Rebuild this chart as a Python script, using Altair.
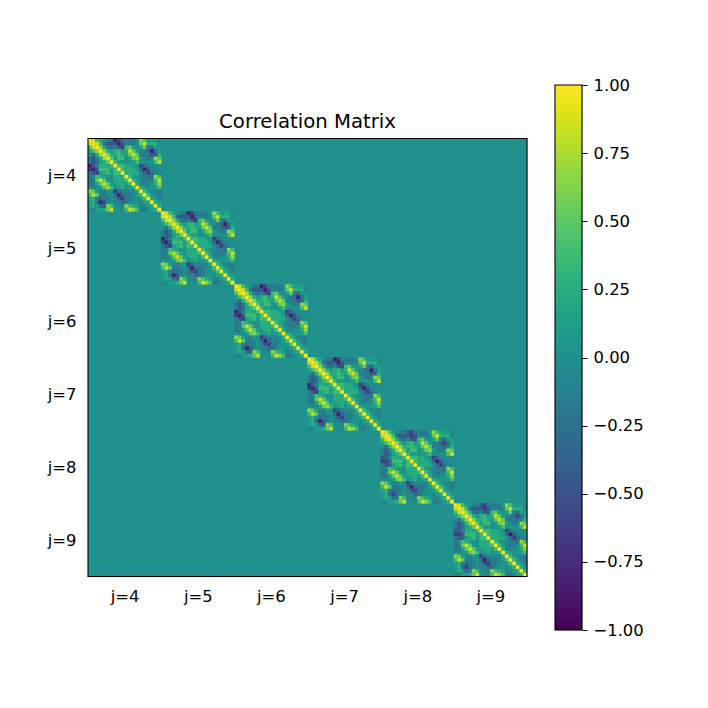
import altair as alt
import pandas as pd

N_BLOCKS = 6
BLOCK = 20
N = N_BLOCKS * BLOCK
BACKGROUND = 0.0

LEVELS = {"a": -0.85, "b": -0.65, "c": -0.45, "d": -0.3, "e": -0.18, "f": -0.08, ".": 0.02,
          "g": 0.12, "h": 0.25, "i": 0.38, "j": 0.52, "k": 0.68, "l": 0.85, "m": 1.0}

BASE_ROWS = [
    "mlig.eeabeeee.kigggf",
    ".mlidcccacfeefjlhhhf",
    "..mkhedfcbijg.gjedgg",
    "...mkhghighljgfedadg",
    "....mkhhihgjljeeecch",
    ".....mjgii.gjkgfefkj",
    "......migg..gi....il",
    ".......miihhg.bdff..",
    "........mihhhgdacff.",
    ".........mhhhhfdbdff",
    "..........mig.feedki",
    "...........migfeefil",
    "............mhff..hk",
    ".............mhg.ggi",
    "..............migffe",
    "...............migfe",
    "................mhgf",
    ".................mhg",
    "..................mh",
    "...................m",
]
# (block, row, col, level) cells where a block differs from the common pattern
OVERRIDES = [
    (4, 0, 7, "c"), (4, 1, 8, "b"), (4, 2, 9, "c"), (4, 3, 17, "b"), (4, 4, 17, "d"), (4, 4, 18, "e"),
    (5, 0, 7, "c"), (5, 1, 8, "b"), (5, 2, 9, "c"), (5, 3, 17, "b"), (5, 4, 17, "d"), (5, 4, 18, "e"),
]

TICK_POS = [10, 30, 50, 70, 90, 110]
TICK_LABELS = ["j=4", "j=5", "j=6", "j=7", "j=8", "j=9"]
CBAR_TICKS = [-1.0, -0.75, -0.5, -0.25, 0.0, 0.25, 0.5, 0.75, 1.0]
FONT = "DejaVu Sans"

override_map = {(b, r, c): s for b, r, c, s in OVERRIDES}
cells = []
for b in range(N_BLOCKS):
    off = b * BLOCK
    for r in range(BLOCK):
        for c in range(r, BLOCK):
            v = LEVELS[override_map.get((b, r, c), BASE_ROWS[r][c])]
            cells.append(dict(x=off + c, x1=off + c + 1, y=off + r, y1=off + r + 1, v=v))
            if c != r:
                cells.append(dict(x=off + r, x1=off + r + 1, y=off + c, y1=off + c + 1, v=v))
cells = pd.DataFrame(cells)

color_scale = alt.Scale(scheme="viridis", domain=[-1, 1])
xs = alt.Scale(domain=[0, N], nice=False, zero=False)
ys = alt.Scale(domain=[N, 0], nice=False, zero=False)

label_expr = "{" + ",".join(f"{p}:'{l}'" for p, l in zip(TICK_POS, TICK_LABELS)) + "}[datum.value]"
ax = dict(values=TICK_POS, labelExpr=label_expr, title=None, grid=False, domain=False, ticks=False,
          labelFont=FONT, labelFontSize=16.4, labelColor="black", labelPadding=12, labelAngle=0)

frame_df = pd.DataFrame({"x": [0], "x1": [N], "y": [0], "y1": [N], "v": [BACKGROUND]})

bg = alt.Chart(frame_df).mark_rect().encode(
    x=alt.X("x:Q", scale=xs, axis=alt.Axis(**ax)),
    x2="x1:Q",
    y=alt.Y("y:Q", scale=ys, axis=alt.Axis(**ax)),
    y2="y1:Q",
    color=alt.Color("v:Q", scale=color_scale, legend=None),
)
rects = alt.Chart(cells).mark_rect(strokeWidth=0.3).encode(
    x=alt.X("x:Q", scale=xs), x2="x1:Q",
    y=alt.Y("y:Q", scale=ys), y2="y1:Q",
    color=alt.Color("v:Q", scale=color_scale, legend=None),
    stroke=alt.Stroke("v:Q", scale=color_scale, legend=None),
)
frame = alt.Chart(frame_df).mark_rect(filled=False, stroke="black", strokeWidth=1.1).encode(
    x=alt.X("x:Q", scale=xs), x2="x1:Q", y=alt.Y("y:Q", scale=ys), y2="y1:Q",
)
heat = alt.layer(bg, rects, frame).properties(
    width=439, height=438,
    title=alt.TitleParams("Correlation Matrix", font=FONT, fontSize=19.7, fontWeight="normal", color="black", offset=6),
)

STEPS = 256
ramp = pd.DataFrame({
    "lo": [-1 + 2 * i / STEPS for i in range(STEPS)],
    "hi": [min(1.0, -1 + 2 * (i + 2) / STEPS) for i in range(STEPS)],
    "mid": [-1 + 2 * (i + 0.5) / STEPS for i in range(STEPS)],
})
cb_y = alt.Scale(domain=[-1, 1], nice=False, zero=False)
cb = alt.Chart(ramp).mark_rect().encode(
    x=alt.value(0), x2=alt.value(27),
    y=alt.Y("lo:Q", scale=cb_y, axis=alt.Axis(
        orient="right", values=CBAR_TICKS, title=None, grid=False, domain=False, tickSize=5,
        tickColor="black", labelFont=FONT, labelFontSize=16.4, labelColor="black", labelPadding=6,
        labelExpr="replace(format(datum.value,'.2f'),'-','\u2212')")),
    y2="hi:Q",
    color=alt.Color("mid:Q", scale=color_scale, legend=None),
)
cb_frame = alt.Chart(pd.DataFrame({"lo": [-1], "hi": [1]})).mark_rect(filled=False, stroke="black", strokeWidth=1.1).encode(
    x=alt.value(0), x2=alt.value(27), y=alt.Y("lo:Q", scale=cb_y), y2="hi:Q",
)
colorbar = alt.layer(cb, cb_frame).properties(width=27, height=545)

chart = alt.hconcat(heat, colorbar, spacing=28, center=True, bounds="flush").resolve_scale(
    color="independent", stroke="independent", x="independent", y="independent"
).properties(padding={"left": 38, "top": 68, "right": 5, "bottom": 5}).configure_view(stroke=None).configure(background="white")

chart.save("out.html", embed_options={"renderer": "svg", "actions": False})
